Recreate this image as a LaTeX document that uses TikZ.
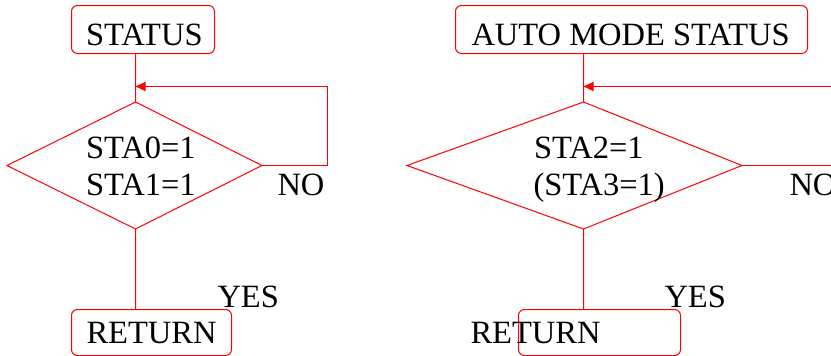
\documentclass[tikz,border=0pt]{standalone}
\usepackage{fontspec}
\setmainfont{Liberation Serif}
\usetikzlibrary{arrows.meta}
\begin{document}
\begin{tikzpicture}[x=1pt,y=-1pt,line width=1pt,
  box/.style={draw=red,rounded corners=6pt,inner sep=0pt,outer sep=0pt,anchor=north west},
  lbl/.style={font=\fontsize{32.5}{38}\selectfont,inner sep=0pt,outer sep=0pt,anchor=base west},
  flow/.style={draw=red},
  arr/.style={draw=red,-{Triangle[length=10pt,width=9pt,fill=red]}}]
\useasboundingbox (0,0) rectangle (831,356);
\clip (0,0) rectangle (831,356);
% boxes
\node[box,minimum width=143pt,minimum height=48pt] (status) at (71.5,5.5) {};
\node[box,minimum width=352pt,minimum height=48pt] (auto) at (455.5,5.5) {};
\node[box,minimum width=160pt,minimum height=46pt] (ret1) at (71.5,309.5) {};
\node[box,minimum width=162pt,minimum height=46pt] (ret2) at (518.5,309.5) {};
% diamonds
\coordinate (d1t) at (135.5,102);
\coordinate (d1l) at (7,165.5);
\coordinate (d1r) at (262,165.5);
\coordinate (d1b) at (135.5,229);
\coordinate (d2t) at (583.5,102);
\coordinate (d2l) at (407,165.5);
\coordinate (d2r) at (742,165.5);
\coordinate (d2b) at (583.5,229);
% loop coordinates
\coordinate (j1) at (135.5,86.5);
\coordinate (c1a) at (327.5,165.5);
\coordinate (c1b) at (327.5,86.5);
\coordinate (j2) at (583.5,86.5);
\coordinate (c2a) at (850,165.5);
\coordinate (c2b) at (850,86.5);
% diamonds with connectors in one path
\draw[flow] (status.south -| d1t) -- (d1t) -- (d1r) -- (d1b) -- (d1l) -- (d1t) (d1b) -- (ret1.north -| d1b);
\draw[flow] (auto.south -| d2t) -- (d2t) -- (d2r) -- (d2b) -- (d2l) -- (d2t) (d2b) -- (ret2.north -| d2b);
\draw[arr] (d1r) -- (c1a) -- (c1b) -- (j1);
\draw[arr] (d2r) -- (c2a) -- (c2b) -- (j2);
% texts
\node[lbl] (t1) at (86,45.5) {STATUS};
\node[lbl] (t2) at (86,158) {STA0=1};
\node[lbl] (t3) at (86,195) {STA1=1};
\node[lbl] (t4) at (277.5,195) {NO};
\node[lbl] (t5) at (217.5,307) {YES};
\node[lbl] (t6) at (86.5,343) {RETURN};
\node[lbl] (u1) at (471.5,45.5) {AUTO MODE STATUS};
\node[lbl] (u2) at (534,158) {STA2=1};
\node[lbl] (u3) at (533.5,195) {(STA3=1)};
\node[lbl] (u4) at (789.5,195) {NO};
\node[lbl] (u5) at (664.5,307) {YES};
\node[lbl] (u6) at (470.5,343) {RETURN};
\end{tikzpicture}
\end{document}
